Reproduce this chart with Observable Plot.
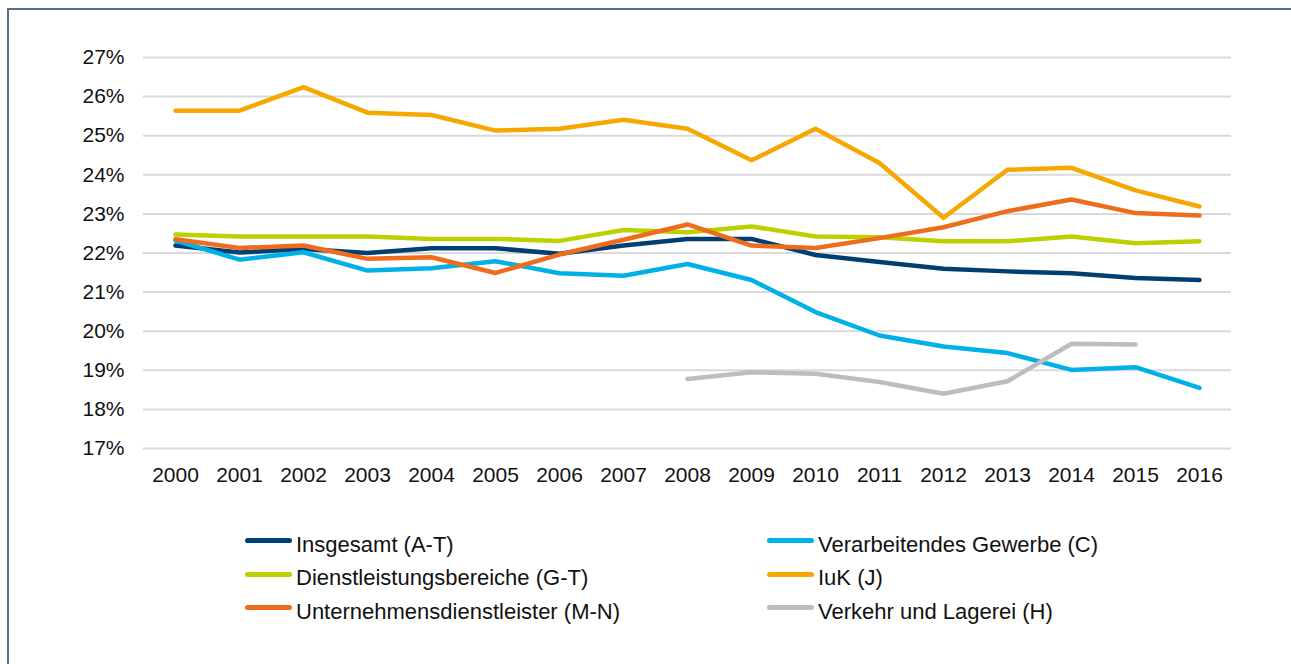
<!DOCTYPE html>
<html>
<head>
<meta charset="utf-8">
<script src="https://cdn.jsdelivr.net/npm/d3@7"></script>
<script src="https://cdn.jsdelivr.net/npm/@observablehq/plot@0.6"></script>
<style>
  html, body { margin: 0; padding: 0; background: #fff; overflow: hidden; }
  body { width: 1291px; height: 664px; position: relative; font-family: "Liberation Sans", Arial, Helvetica, sans-serif; }
  #frame { position: absolute; left: 7px; top: 8px; width: 1400px; height: 800px; border: 2px solid #4f6e8f; box-sizing: border-box; }
  #chart { position: absolute; left: 0; top: 0; }
  #legend { position: absolute; left: 245px; top: 528px; display: grid; grid-template-columns: 522px auto; grid-auto-rows: 33.5px; font-size: 22px; color: #111; }
  .item { display: flex; align-items: center; white-space: nowrap; }
  .sw { width: 47px; height: 5px; border-radius: 3px; margin-right: 4px; position: relative; top: -4px; }
</style>
</head>
<body>
<div id="frame"></div>
<div id="chart"></div>
<div id="legend"></div>
<script>
const years = [2000,2001,2002,2003,2004,2005,2006,2007,2008,2009,2010,2011,2012,2013,2014,2015,2016];
const yTicks = [17,18,19,20,21,22,23,24,25,26,27];

const seriesNames = [
  "Insgesamt (A-T)",
  "Verarbeitendes Gewerbe (C)",
  "Dienstleistungsbereiche (G-T)",
  "IuK (J)",
  "Unternehmensdienstleister (M-N)",
  "Verkehr und Lagerei (H)"
];
const seriesColors = ["#003f72", "#00b1e8", "#bdd000", "#f6a800", "#ee6c1c", "#bdbdbd"];

const insgesamt      = [22.19,22.01,22.10,22.00,22.12,22.12,21.98,22.19,22.36,22.36,21.95,21.77,21.60,21.53,21.48,21.36,21.31];
const verarbeitendes = [22.32,21.83,22.02,21.55,21.61,21.79,21.48,21.42,21.72,21.31,20.49,19.89,19.61,19.44,19.01,19.08,18.55];
const dienstleistung = [22.47,22.42,22.42,22.42,22.36,22.36,22.31,22.59,22.53,22.68,22.42,22.40,22.30,22.30,22.42,22.25,22.30];
const iuk            = [25.64,25.64,26.24,25.59,25.53,25.13,25.18,25.41,25.18,24.37,25.18,24.30,22.90,24.13,24.18,23.60,23.19];
const unternehmens   = [22.35,22.13,22.19,21.85,21.89,21.49,21.96,22.34,22.73,22.19,22.13,22.38,22.66,23.07,23.37,23.02,22.96];
const verkehr        = [null,null,null,null,null,null,null,null,18.78,18.95,18.91,18.70,18.40,18.72,19.68,19.66,null];

const seriesValues = [insgesamt, verarbeitendes, dienstleistung, iuk, unternehmens, verkehr];

const rows = [];
seriesNames.forEach((name, i) => {
  years.forEach((yr, j) => {
    const v = seriesValues[i][j];
    if (v != null) rows.push({series: name, year: yr, value: v});
  });
});

const chart = Plot.plot({
  width: 1291,
  height: 500,
  marginLeft: 143,
  marginRight: 60,
  marginTop: 57,
  marginBottom: 52,
  style: { fontFamily: '"Liberation Sans", Arial, Helvetica, sans-serif', fontSize: "21px", color: "#111", background: "transparent" },
  x: { type: "point", domain: years, padding: 0.5, label: null },
  y: { domain: [17, 27], label: null },
  color: { domain: seriesNames, range: seriesColors },
  marks: [
    Plot.gridY(yTicks, { stroke: "#d9d9d9", strokeOpacity: 1, strokeWidth: 2 }),
    Plot.axisY(yTicks, { tickSize: 0, tickPadding: 19, tickFormat: d => d + "%", fontSize: 21, label: null }),
    Plot.axisX(years, { tickSize: 0, tickPadding: 19, tickFormat: d => String(d), fontSize: 21, label: null }),
    ...seriesNames.map(name =>
      Plot.line(rows.filter(r => r.series === name), {
        x: "year", y: "value", stroke: "series",
        strokeWidth: 4.5, strokeLinejoin: "round", strokeLinecap: "round"
      })
    )
  ]
});
document.getElementById("chart").appendChild(chart);

// Legend: column-major order as in reference (left column: 0,2,4; right: 1,3,5)
const legend = document.getElementById("legend");
seriesNames.forEach((name, i) => {
  const item = document.createElement("div");
  item.className = "item";
  const sw = document.createElement("span");
  sw.className = "sw";
  sw.style.background = seriesColors[i];
  const tx = document.createElement("span");
  tx.textContent = name;
  item.appendChild(sw);
  item.appendChild(tx);
  legend.appendChild(item);
});
</script>
</body>
</html>
